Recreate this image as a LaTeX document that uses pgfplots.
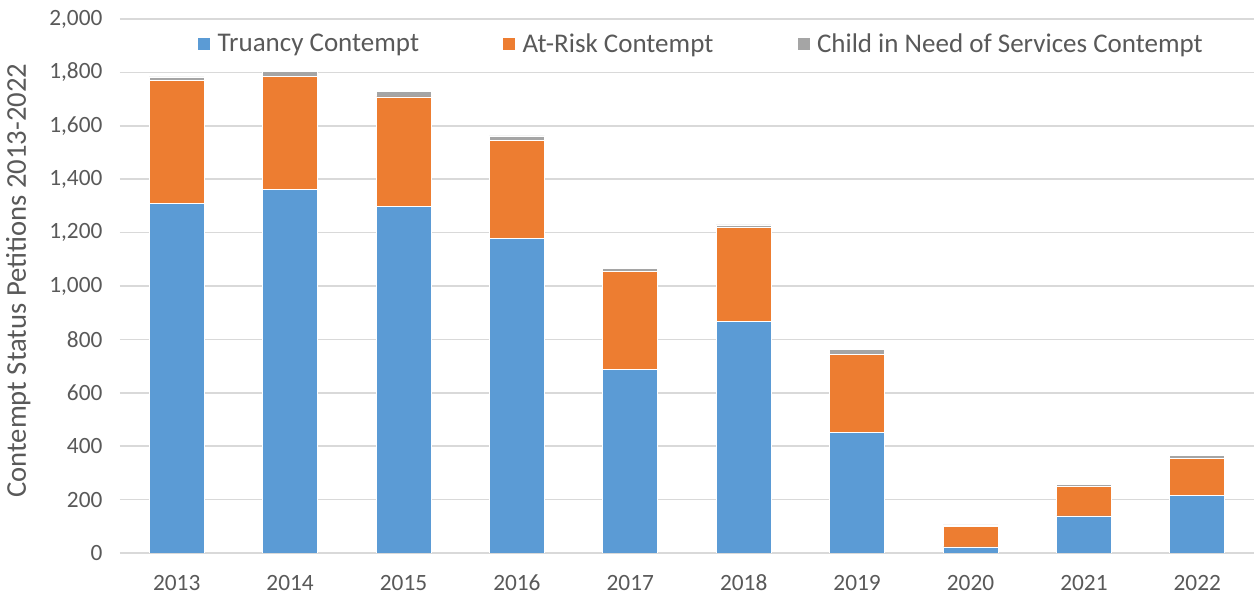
\documentclass[border=0pt]{standalone}
\usepackage{fontspec}
\setmainfont{Carlito}
\usepackage{pgfplots}
\pgfplotsset{compat=1.18}
\definecolor{cblue}{HTML}{5B9BD5}
\definecolor{corange}{HTML}{ED7D31}
\definecolor{cgray}{HTML}{A5A5A5}
\definecolor{gridgray}{HTML}{D9D9D9}
\definecolor{txtgray}{HTML}{595959}
\begin{document}
\begin{tikzpicture}
\begin{axis}[
  scale only axis, width=680.4pt, height=320.4pt,
  ybar stacked, bar width=0.485,
  xmin=-0.5, xmax=9.5, ymin=0, ymax=2000,
  xtick={0,...,9},
  xticklabels={2013,2014,2015,2016,2017,2018,2019,2020,2021,2022},
  ytick={0,200,...,2000},
  axis line style={draw=none},
  major tick length=0pt,
  ymajorgrids, grid style={color=gridgray, line width=1pt},
  /pgf/number format/assume math mode=true,
  /pgf/number format/fixed,
  /pgf/number format/1000 sep={,},
  tick label style={font=\fontsize{14}{16}\selectfont, text=txtgray},
  xticklabel style={anchor=base, yshift=-22.4pt},
  yticklabel style={xshift=-7pt},
  ylabel={Contempt Status Petitions 2013-2022},
  ylabel style={at={(axis description cs:-0.0897,0.51)}, anchor=center, font=\fontsize{17.2}{19}\selectfont, text=txtgray},
  title={2013-2022},
  title style={at={(axis description cs:0.4586,1)}, anchor=base, yshift=8.7pt, font=\bfseries\fontsize{22}{24}\selectfont, text=txtgray},
  legend style={at={(axis description cs:0.513,0.953)}, anchor=center, draw=none, fill=none,
    font=\fontsize{16.2}{18}\selectfont, text=txtgray,
    /tikz/every even column/.append style={column sep=48pt},
    /tikz/every odd column/.append style={column sep=2pt}},
  legend columns=3,
  legend image code/.code={\fill[#1] (0pt,-3.9pt) rectangle (7.8pt,3.9pt);},
]
\addplot+[fill=cblue, draw=white, line width=0.4pt] coordinates {(0,1310) (1,1362) (2,1297) (3,1178) (4,686) (5,866) (6,452) (7,23) (8,139) (9,216)};
\addplot+[fill=corange, draw=white, line width=0.4pt] coordinates {(0,459) (1,422) (2,411) (3,366) (4,368) (5,352) (6,292) (7,76) (8,111) (9,137)};
\addplot+[fill=cgray, draw=white, line width=0.4pt] coordinates {(0,14) (1,21) (2,21) (3,18) (4,12) (5,11) (6,17) (7,6) (8,8) (9,11)};
\legend{Truancy Contempt, At-Risk Contempt, Child in Need of Services Contempt}
\end{axis}
\pgfresetboundingbox
\path[use as bounding box] (-72pt,-25.8pt) rectangle (680.4pt,331.8pt);
\end{tikzpicture}
\end{document}
